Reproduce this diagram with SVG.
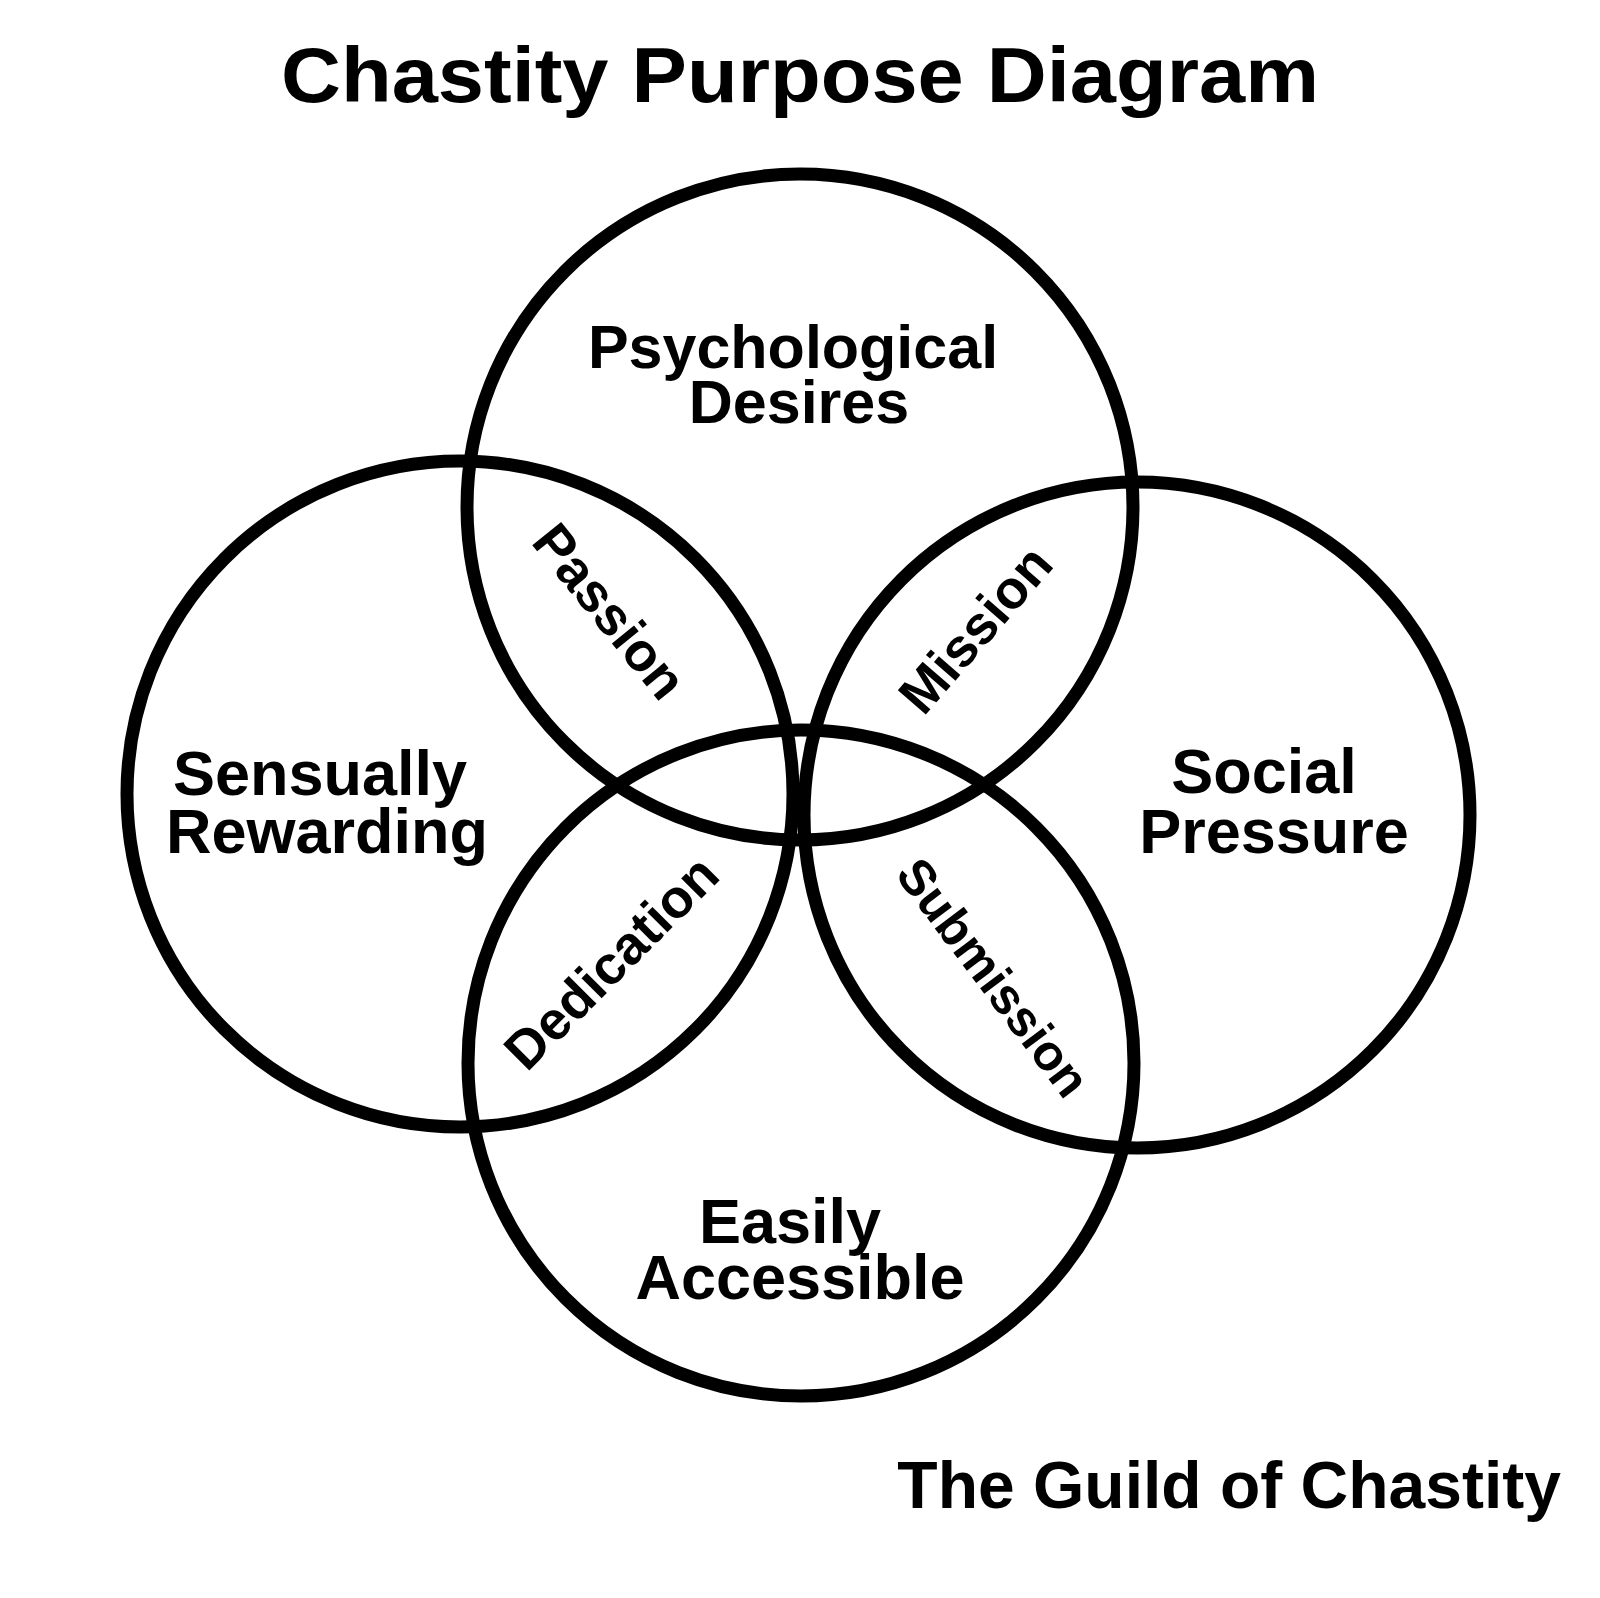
<svg xmlns="http://www.w3.org/2000/svg" width="1600" height="1598" viewBox="0 0 1600 1598">
<style>
.ring{fill:none;stroke:#000;stroke-width:13}
.t{font-family:"Liberation Sans",Arial,sans-serif;font-weight:bold;fill:#000;text-anchor:middle}
.lbl{font-size:63px}
.lbl-s{font-size:61px}
.ov{font-size:54px}
.ov-s{font-size:50px}
</style>
<rect width="1600" height="1598" fill="#fff"/>
<text class="t" x="800" y="102" font-size="78" textLength="1038" lengthAdjust="spacingAndGlyphs">Chastity Purpose Diagram</text>
<g id="connectors"></g>
<g id="node-psychological">
<circle class="ring" cx="800" cy="507" r="333"/>
<text class="t lbl-s" x="793" y="368">Psychological</text>
<text class="t lbl-s" x="799" y="423">Desires</text>
</g>
<g id="node-sensual">
<circle class="ring" cx="460" cy="794" r="333"/>
<text class="t lbl" x="320" y="795">Sensually</text>
<text class="t lbl" x="327" y="853">Rewarding</text>
</g>
<g id="node-social">
<circle class="ring" cx="1137" cy="815" r="333"/>
<text class="t lbl" x="1264" y="793">Social</text>
<text class="t lbl" x="1274" y="853">Pressure</text>
</g>
<g id="node-accessible">
<circle class="ring" cx="801" cy="1063" r="333"/>
<text class="t lbl" x="790" y="1243">Easily</text>
<text class="t lbl" x="800" y="1299">Accessible</text>
</g>
<g id="overlap-passion"><text class="t ov" transform="translate(610,611) rotate(51)" x="0" y="19">Passion</text></g>
<g id="overlap-mission"><text class="t ov" transform="translate(975,629) rotate(-49)" x="0" y="19">Mission</text></g>
<g id="overlap-dedication"><text class="t ov" transform="translate(611,962) rotate(-45)" x="0" y="19">Dedication</text></g>
<g id="overlap-submission"><text class="t ov-s" transform="translate(994,977) rotate(53)" x="0" y="18">Submission</text></g>
<text class="t" x="1561" y="1508" font-size="66" style="text-anchor:end">The Guild of Chastity</text>
</svg>
